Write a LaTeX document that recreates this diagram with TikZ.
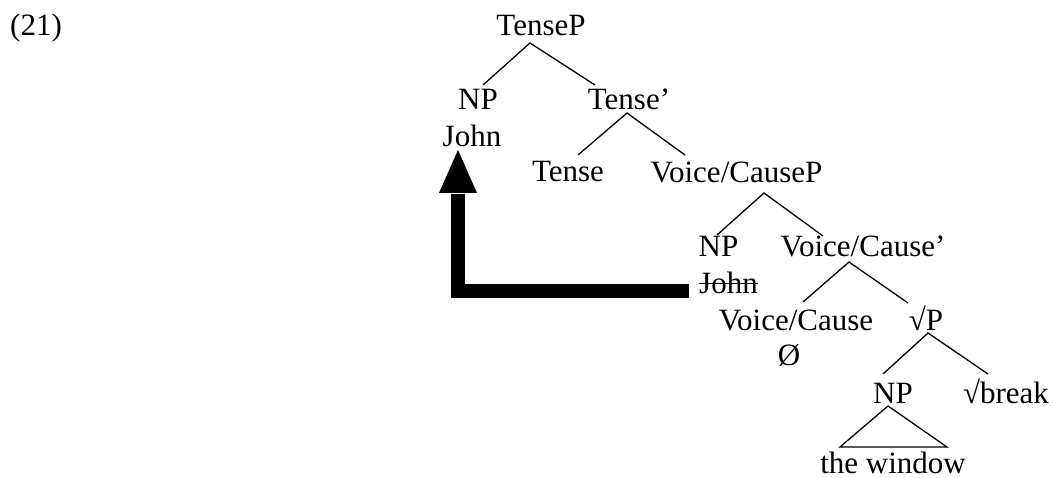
\documentclass[tikz,border=0pt]{standalone}
\usepackage{fontspec}
\setmainfont{Liberation Serif}
\begin{document}
\begin{tikzpicture}[x=1pt,y=1pt,
  lab/.style={inner sep=0pt, anchor=base, font=\fontsize{31}{36}\selectfont},
  branch/.style={line width=1.3pt},
  movearrow/.style={line width=14pt}]
\useasboundingbox (0,0) rectangle (1054,-478);

% example number
\node[lab] (ex) at (36,-36) {(21)};

% tree labels (placed by baseline)
\node[lab] (TP)    at (541,-36)   {TenseP};
\node[lab] (NPa)   at (478,-110)  {NP};
\node[lab] (Johna) at (472,-147)  {John};
\node[lab] (Tbar)  at (629,-110)  {Tense’};
\node[lab] (T)     at (568,-182)  {Tense};
\node[lab] (VCP)   at (736.5,-183) {Voice/CauseP};
\node[lab] (NPb)   at (718.5,-257) {NP};
\node[lab] (Johnb) at (728.5,-293) {John};
\node[lab] (VCbar) at (863,-257)  {Voice/Cause’};
\node[lab] (VC)    at (796,-330)  {Voice/Cause};
\node[lab] (null)  at (789,-365)  {Ø};
\node[lab] (rP)    at (926,-330)  {√P};
\node[lab] (NPc)   at (893,-403)  {NP};
\node[lab] (rbrk)  at (1006,-403) {√break};
\node[lab] (win)   at (893,-473)  {the window};

% branches
\draw[branch] ([shift={(5,25)}]NPa.base) -- ([shift={(-11,-7)}]TP.base)
              -- ([shift={(-34,25)}]Tbar.base);
\draw[branch] ([shift={(10,27)}]T.base) -- ([shift={(-2,-3)}]Tbar.base)
              -- ([shift={(-51.5,28)}]VCP.base);
\draw[branch] ([shift={(-1.5,22)}]NPb.base) -- ([shift={(27.5,-10)}]VCP.base)
              -- ([shift={(-40,21)}]VCbar.base);
\draw[branch] ([shift={(7,28)}]VC.base) -- ([shift={(-14,-5)}]VCbar.base)
              -- ([shift={(-18,27)}]rP.base);
\draw[branch] ([shift={(-10,29)}]NPc.base) -- ([shift={(2,-3)}]rP.base)
              -- ([shift={(-18,29)}]rbrk.base);

% triangle over "the window"
\draw[branch] ([shift={(-5,-3)}]NPc.base) -- ([shift={(-53,26)}]win.base)
              -- ([shift={(54,26)}]win.base) -- cycle;

% strike-through of the moved copy
\draw[line width=1.4pt] ([yshift=9.5]Johnb.base west) -- ([yshift=9.5]Johnb.base east);

% movement arrow
\coordinate (tip) at ([shift={(-14,-3)}]Johna.base);
\path (tip) ++(0,-43) coordinate (hb);
\draw[movearrow] ([shift={(-10,2)}]Johnb.base west) -| ([yshift=-1]hb);
\fill (tip) -- ([xshift=-19]hb) -- ([xshift=19]hb) -- cycle;
\end{tikzpicture}
\end{document}
